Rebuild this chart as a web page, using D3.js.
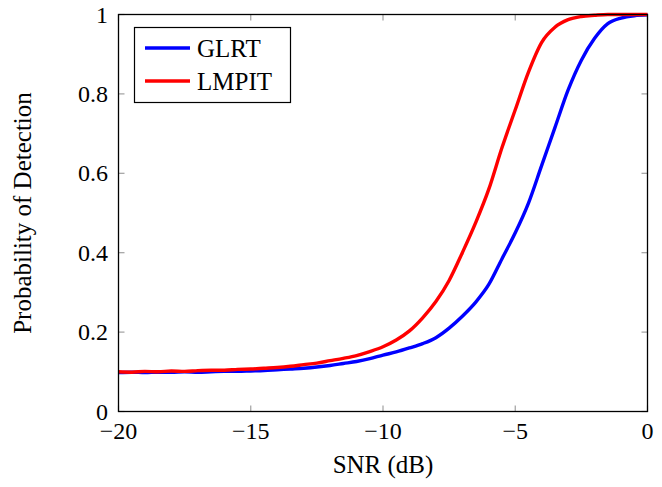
<!DOCTYPE html>
<html><head><meta charset="utf-8">
<script src="https://cdn.jsdelivr.net/npm/d3@7"></script>
<style>body{margin:0;background:#fff}svg{display:block}</style>
</head><body>
<svg id="c" width="662" height="487"></svg>
<script>
const snr = [-20,-19.5,-19,-18.5,-18,-17.5,-17,-16.5,-16,-15.5,-15,-14.5,-14,-13.5,-13,-12.5,-12,-11.5,-11,-10.5,-10,-9.5,-9,-8.5,-8,-7.5,-7,-6.5,-6,-5.5,-5,-4.5,-4,-3.5,-3,-2.5,-2,-1.5,-1,-0.5,0];
const glrt = [0.098,0.099,0.098,0.099,0.099,0.100,0.099,0.100,0.101,0.101,0.102,0.103,0.105,0.107,0.109,0.112,0.116,0.121,0.126,0.133,0.142,0.150,0.160,0.171,0.186,0.210,0.240,0.275,0.320,0.385,0.450,0.525,0.620,0.715,0.810,0.885,0.940,0.977,0.991,0.997,0.999];
const lmpit = [0.100,0.099,0.101,0.100,0.102,0.101,0.103,0.104,0.104,0.106,0.107,0.109,0.111,0.114,0.118,0.122,0.128,0.134,0.141,0.151,0.163,0.180,0.203,0.236,0.277,0.330,0.400,0.475,0.560,0.665,0.760,0.855,0.930,0.968,0.987,0.995,0.998,1.000,1.000,1.000,1.000];
const xTicks = [-20,-15,-10,-5,0];
const yTicks = [0,0.2,0.4,0.6,0.8,1];
const seriesNames = ["GLRT","LMPIT"];
const seriesColors = ["#0000ff","#ff0000"];

const svg = d3.select("#c");
const L=118.5, R=647.5, T=14.5, B=411.5;
const x = d3.scaleLinear().domain([-20,0]).range([L,R]);
const y = d3.scaleLinear().domain([0,1]).range([B,T]);
const serif = "'Liberation Serif','Times New Roman',serif";
const tickLen = 6;

// ticks (inside, mirrored)
const tg = svg.append("g").attr("stroke","#a0a0a0").attr("stroke-width",1.2);
xTicks.forEach(v=>{
  tg.append("line").attr("x1",x(v)).attr("x2",x(v)).attr("y1",B).attr("y2",B-tickLen);
  tg.append("line").attr("x1",x(v)).attr("x2",x(v)).attr("y1",T).attr("y2",T+tickLen);
});
yTicks.forEach(v=>{
  tg.append("line").attr("y1",y(v)).attr("y2",y(v)).attr("x1",L).attr("x2",L+tickLen);
  tg.append("line").attr("y1",y(v)).attr("y2",y(v)).attr("x1",R).attr("x2",R-tickLen);
});

// lines
const line = d3.line().x((d,i)=>x(snr[i])).y(d=>y(d)).curve(d3.curveMonotoneX);
[glrt,lmpit].forEach((s,k)=>{
  svg.append("path").datum(s).attr("d",line).attr("fill","none")
    .attr("stroke",seriesColors[k]).attr("stroke-width",3.4).attr("stroke-linejoin","round");
});

// frame
svg.append("rect").attr("x",L).attr("y",T).attr("width",R-L).attr("height",B-T)
  .attr("fill","none").attr("stroke","#000").attr("stroke-width",1.3);

// tick labels
const fmt = v => (v<0 ? "\u2212"+Math.abs(v) : String(v));
xTicks.forEach(v=>{
  svg.append("text").attr("x",x(v)).attr("y",439).attr("text-anchor","middle")
    .attr("font-family",serif).attr("font-size",24).text(fmt(v));
});
yTicks.forEach(v=>{
  svg.append("text").attr("x",108).attr("y",y(v)+8).attr("text-anchor","end")
    .attr("font-family",serif).attr("font-size",24).text(v===0||v===1?String(v):v.toFixed(1));
});

// axis titles
svg.append("text").attr("x",(L+R)/2).attr("y",473).attr("text-anchor","middle")
  .attr("font-family",serif).attr("font-size",25).text("SNR (dB)");
svg.append("text").attr("transform",`translate(31,${(T+B)/2}) rotate(-90)`).attr("text-anchor","middle")
  .attr("font-family",serif).attr("font-size",25).text("Probability of Detection");

// legend
const lg = svg.append("g");
lg.append("rect").attr("x",134.5).attr("y",27.5).attr("width",156).attr("height",75)
  .attr("fill","#fff").attr("stroke","#000").attr("stroke-width",1.2);
seriesNames.forEach((n,i)=>{
  const yy = 48 + i*33;
  lg.append("line").attr("x1",145).attr("x2",190).attr("y1",yy).attr("y2",yy)
    .attr("stroke",seriesColors[i]).attr("stroke-width",3.4);
  lg.append("text").attr("x",197).attr("y",yy+9).attr("font-family",serif).attr("font-size",25).text(n);
});
</script>
</body></html>
